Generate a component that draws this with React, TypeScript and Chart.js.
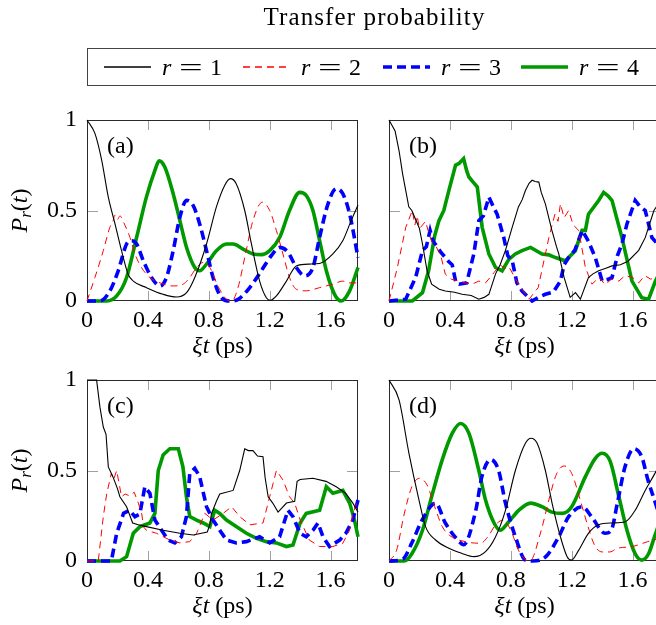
import React, { useEffect, useRef } from "react";
import { Chart, registerables } from "chart.js";

Chart.register(...registerables);

type Pt = [number, number];

const X_MAX = 1.78;
const X_TICKS = [0, 0.4, 0.8, 1.2, 1.6];
const X_TICK_LABELS = ["0", "0.4", "0.8", "1.2", "1.6"];
const Y_TICKS = [0, 0.5, 1];
const Y_TICK_LABELS = ["0", "0.5", "1"];
const R_VALUES = ["1", "2", "3", "4"];
const PANEL_NAMES = ["(a)", "(b)", "(c)", "(d)"];
const TITLE = "Transfer probability";

// ---- panel (a) ----
const aR1: Pt[] = [[0,1],[0.052,0.926],[0.096,0.78],[0.14,0.574],[0.184,0.426],[0.227,0.278],[0.27,0.148],[0.304,0.11],[0.39,0.074],[0.5,0.037],[0.588,0.022],[0.654,0.046],[0.708,0.13],[0.785,0.315],[0.85,0.52],[0.905,0.64],[0.942,0.676],[0.98,0.648],[1.036,0.5],[1.08,0.315],[1.134,0.11],[1.178,0.018],[1.204,0.004],[1.244,0.028],[1.31,0.11],[1.375,0.194],[1.46,0.204],[1.528,0.207],[1.615,0.26],[1.68,0.333],[1.735,0.444],[1.78,0.53]];
const aR2: Pt[] = [[0,0],[0.052,0.13],[0.107,0.278],[0.15,0.407],[0.17,0.44],[0.184,0.475],[0.2,0.45],[0.216,0.47],[0.25,0.417],[0.282,0.352],[0.315,0.26],[0.358,0.185],[0.413,0.13],[0.48,0.1],[0.566,0.083],[0.632,0.093],[0.675,0.13],[0.72,0.185],[0.763,0.213],[0.807,0.185],[0.86,0.083],[0.916,0.009],[0.95,0],[0.992,0.074],[1.036,0.24],[1.09,0.444],[1.152,0.546],[1.2,0.5],[1.244,0.389],[1.287,0.26],[1.33,0.13],[1.375,0.065],[1.44,0.056],[1.528,0.074],[1.615,0.093],[1.68,0.11],[1.72,0.1],[1.78,0.1]];
const aR3: Pt[] = [[0,0],[0.085,0],[0.15,0.055],[0.205,0.167],[0.26,0.315],[0.293,0.333],[0.326,0.315],[0.37,0.222],[0.424,0.13],[0.48,0.083],[0.522,0.13],[0.566,0.278],[0.61,0.463],[0.654,0.556],[0.697,0.528],[0.74,0.426],[0.785,0.278],[0.828,0.13],[0.883,0.018],[0.938,0],[0.992,0.009],[1.069,0.074],[1.145,0.167],[1.21,0.25],[1.266,0.296],[1.32,0.27],[1.375,0.185],[1.43,0.139],[1.484,0.185],[1.528,0.352],[1.583,0.537],[1.637,0.62],[1.68,0.593],[1.725,0.481],[1.78,0.24]];
const aR4: Pt[] = [[0,0],[0.13,0],[0.195,0.028],[0.26,0.13],[0.326,0.352],[0.39,0.574],[0.446,0.722],[0.474,0.774],[0.511,0.74],[0.566,0.593],[0.61,0.444],[0.654,0.296],[0.708,0.185],[0.74,0.167],[0.785,0.204],[0.85,0.278],[0.916,0.315],[0.96,0.315],[1.025,0.287],[1.09,0.26],[1.145,0.256],[1.2,0.278],[1.266,0.352],[1.33,0.5],[1.397,0.6],[1.44,0.583],[1.484,0.5],[1.528,0.333],[1.572,0.167],[1.626,0.037],[1.67,0],[1.725,0.056],[1.78,0.185]];

// ---- panel (b) ----
const bR1: Pt[] = [[0,1],[0.04,0.94],[0.066,0.83],[0.09,0.7],[0.13,0.52],[0.15,0.5],[0.175,0.45],[0.2,0.4],[0.22,0.315],[0.25,0.167],[0.28,0.093],[0.33,0.065],[0.37,0.055],[0.43,0.048],[0.48,0.037],[0.54,0.03],[0.59,0.01],[0.625,0.02],[0.656,0.037],[0.7,0.15],[0.73,0.2],[0.765,0.28],[0.81,0.41],[0.85,0.52],[0.875,0.56],[0.896,0.61],[0.92,0.65],[0.94,0.667],[0.96,0.66],[0.984,0.657],[1.0,0.6],[1.027,0.537],[1.07,0.39],[1.1,0.3],[1.115,0.26],[1.15,0.13],[1.19,0.02],[1.225,0.046],[1.257,0.01],[1.31,0.13],[1.34,0.15],[1.377,0.167],[1.42,0.18],[1.465,0.194],[1.52,0.2],[1.57,0.22],[1.64,0.28],[1.683,0.35],[1.74,0.5],[1.78,0.55]];
const bR2: Pt[] = [[0,0],[0.055,0.185],[0.11,0.407],[0.153,0.5],[0.17,0.42],[0.185,0.47],[0.2,0.4],[0.24,0.44],[0.26,0.38],[0.28,0.33],[0.31,0.3],[0.34,0.25],[0.37,0.148],[0.41,0.12],[0.46,0.11],[0.5,0.1],[0.546,0.093],[0.59,0.11],[0.634,0.1],[0.69,0.157],[0.73,0.2],[0.76,0.18],[0.787,0.19],[0.85,0.093],[0.92,0.01],[0.98,0.074],[1.05,0.35],[1.09,0.48],[1.11,0.44],[1.126,0.537],[1.15,0.46],[1.18,0.5],[1.21,0.42],[1.246,0.39],[1.29,0.185],[1.333,0.093],[1.38,0.13],[1.42,0.09],[1.46,0.12],[1.51,0.11],[1.55,0.14],[1.6,0.13],[1.64,0.1],[1.68,0.14],[1.72,0.12],[1.78,0.15]];
const bR3: Pt[] = [[0,0],[0.11,0.01],[0.175,0.13],[0.22,0.28],[0.245,0.3],[0.27,0.39],[0.29,0.33],[0.317,0.3],[0.34,0.27],[0.37,0.24],[0.39,0.22],[0.415,0.2],[0.44,0.1],[0.46,0.093],[0.51,0.1],[0.557,0.26],[0.59,0.444],[0.62,0.47],[0.656,0.574],[0.68,0.53],[0.71,0.48],[0.754,0.35],[0.78,0.25],[0.81,0.22],[0.84,0.1],[0.874,0.055],[0.94,0],[0.98,0.02],[1.027,0.037],[1.08,0.05],[1.126,0.11],[1.15,0.2],[1.18,0.24],[1.22,0.28],[1.27,0.39],[1.31,0.33],[1.355,0.24],[1.4,0.11],[1.44,0.12],[1.465,0.13],[1.5,0.25],[1.53,0.315],[1.563,0.426],[1.617,0.555],[1.65,0.52],[1.683,0.5],[1.727,0.35],[1.78,0.3]];
const bR4: Pt[] = [[0,0],[0.153,0],[0.22,0.046],[0.26,0.167],[0.3,0.36],[0.328,0.444],[0.36,0.5],[0.393,0.61],[0.437,0.75],[0.46,0.76],[0.49,0.787],[0.51,0.72],[0.525,0.685],[0.55,0.66],[0.58,0.63],[0.612,0.407],[0.656,0.26],[0.7,0.185],[0.743,0.167],[0.787,0.23],[0.83,0.26],[0.874,0.278],[0.93,0.296],[1.005,0.26],[1.05,0.255],[1.093,0.24],[1.158,0.222],[1.224,0.278],[1.268,0.39],[1.29,0.39],[1.31,0.48],[1.377,0.555],[1.41,0.6],[1.44,0.58],[1.465,0.555],[1.53,0.35],[1.596,0.11],[1.66,0.018],[1.705,0.01],[1.75,0.11],[1.78,0.16]];

// ---- panel (c) ----
const cR1: Pt[] = [[0,1],[0.063,1],[0.085,0.85],[0.107,0.74],[0.125,0.7],[0.14,0.52],[0.17,0.466],[0.2,0.4],[0.216,0.355],[0.26,0.3],[0.3,0.21],[0.337,0.2],[0.39,0.19],[0.5,0.17],[0.61,0.153],[0.697,0.144],[0.79,0.16],[0.807,0.2],[0.817,0.26],[0.85,0.33],[0.872,0.37],[0.96,0.39],[1.003,0.5],[1.036,0.62],[1.06,0.61],[1.09,0.61],[1.12,0.58],[1.156,0.576],[1.17,0.46],[1.19,0.355],[1.22,0.32],[1.255,0.27],[1.31,0.32],[1.364,0.33],[1.38,0.44],[1.4,0.45],[1.484,0.457],[1.57,0.44],[1.637,0.41],[1.7,0.374],[1.746,0.32],[1.78,0.27]];
const cR2: Pt[] = [[0,0],[0.074,0],[0.107,0.245],[0.13,0.374],[0.16,0.484],[0.175,0.45],[0.195,0.5],[0.227,0.355],[0.25,0.37],[0.28,0.36],[0.31,0.38],[0.337,0.32],[0.36,0.26],[0.37,0.19],[0.39,0.17],[0.457,0.153],[0.544,0.116],[0.61,0.1],[0.675,0.107],[0.72,0.153],[0.774,0.263],[0.828,0.226],[0.894,0.263],[0.95,0.3],[1.003,0.245],[1.07,0.2],[1.156,0.21],[1.2,0.355],[1.244,0.5],[1.287,0.448],[1.33,0.355],[1.364,0.32],[1.4,0.227],[1.46,0.116],[1.528,0.08],[1.615,0.08],[1.68,0.098],[1.725,0.17],[1.746,0.26],[1.78,0.34]];
const cR3: Pt[] = [[0,0],[0.16,0],[0.195,0.153],[0.24,0.263],[0.28,0.28],[0.315,0.245],[0.347,0.26],[0.38,0.41],[0.413,0.374],[0.446,0.226],[0.49,0.17],[0.533,0.116],[0.577,0.1],[0.62,0.134],[0.653,0.245],[0.675,0.484],[0.708,0.512],[0.74,0.466],[0.785,0.3],[0.828,0.226],[0.872,0.17],[0.916,0.116],[0.98,0.1],[1.047,0.107],[1.134,0.134],[1.2,0.1],[1.265,0.134],[1.32,0.28],[1.353,0.245],[1.4,0.153],[1.44,0.134],[1.484,0.17],[1.517,0.21],[1.55,0.134],[1.593,0.08],[1.66,0.116],[1.7,0.153],[1.746,0.226],[1.78,0.337]];
const cR4: Pt[] = [[0,0],[0.216,0],[0.26,0.024],[0.304,0.153],[0.348,0.19],[0.413,0.21],[0.446,0.263],[0.468,0.5],[0.5,0.586],[0.544,0.62],[0.6,0.62],[0.63,0.52],[0.653,0.355],[0.675,0.245],[0.72,0.226],[0.763,0.21],[0.807,0.19],[0.839,0.28],[0.872,0.263],[0.916,0.226],[0.98,0.19],[1.047,0.153],[1.113,0.125],[1.178,0.107],[1.244,0.1],[1.31,0.08],[1.353,0.088],[1.4,0.21],[1.44,0.263],[1.528,0.28],[1.572,0.41],[1.615,0.374],[1.68,0.39],[1.725,0.32],[1.757,0.226],[1.78,0.134]];

// ---- panel (d) ----
const dR1: Pt[] = [[0,1],[0.066,0.89],[0.131,0.595],[0.197,0.337],[0.24,0.19],[0.306,0.116],[0.393,0.07],[0.48,0.042],[0.557,0.024],[0.634,0.052],[0.7,0.134],[0.765,0.28],[0.83,0.5],[0.896,0.65],[0.933,0.678],[0.973,0.65],[1.027,0.5],[1.071,0.32],[1.126,0.134],[1.17,0.024],[1.198,0.005],[1.246,0.06],[1.31,0.153],[1.377,0.2],[1.464,0.21],[1.552,0.217],[1.617,0.28],[1.683,0.39],[1.744,0.48],[1.78,0.54]];
const dR2: Pt[] = [[0,0],[0.05,0.06],[0.1,0.26],[0.15,0.41],[0.2,0.457],[0.25,0.42],[0.3,0.3],[0.35,0.19],[0.4,0.14],[0.5,0.107],[0.6,0.098],[0.65,0.134],[0.7,0.2],[0.75,0.226],[0.8,0.17],[0.85,0.06],[0.9,0.005],[0.925,0],[1.0,0.17],[1.05,0.337],[1.1,0.48],[1.15,0.525],[1.2,0.484],[1.25,0.355],[1.3,0.21],[1.35,0.088],[1.4,0.05],[1.45,0.05],[1.5,0.07],[1.6,0.08],[1.7,0.107],[1.78,0.125]];
const dR3: Pt[] = [[0,0],[0.09,0.01],[0.15,0.1],[0.22,0.23],[0.306,0.32],[0.37,0.21],[0.47,0.1],[0.49,0.09],[0.57,0.28],[0.61,0.466],[0.667,0.56],[0.72,0.5],[0.765,0.32],[0.83,0.134],[0.896,0.005],[0.94,0],[1.03,0.024],[1.115,0.134],[1.18,0.245],[1.27,0.3],[1.33,0.245],[1.42,0.153],[1.46,0.17],[1.5,0.32],[1.55,0.52],[1.607,0.62],[1.66,0.576],[1.7,0.45],[1.75,0.32],[1.78,0.24]];
const dR4: Pt[] = [[0,0],[0.1,0],[0.15,0.04],[0.22,0.17],[0.28,0.355],[0.35,0.56],[0.415,0.705],[0.47,0.76],[0.525,0.705],[0.59,0.5],[0.634,0.337],[0.69,0.21],[0.73,0.17],[0.787,0.217],[0.852,0.28],[0.93,0.32],[1.005,0.3],[1.07,0.27],[1.137,0.263],[1.2,0.3],[1.29,0.466],[1.355,0.567],[1.4,0.595],[1.453,0.55],[1.51,0.355],[1.563,0.17],[1.617,0.04],[1.66,0.005],[1.705,0.04],[1.75,0.15],[1.78,0.22]];

const PANEL_DATA: Pt[][][] = [
  [aR1, aR2, aR3, aR4],
  [bR1, bR2, bR3, bR4],
  [cR1, cR2, cR3, cR4],
  [dR1, dR2, dR3, dR4],
];

// ---- styling / layout ----
const SERIF = '"Liberation Serif", "Times New Roman", serif';
const CANVAS_W = 680;
const CANVAS_H = 625;
const X_AXIS_H = 40;
const Y_AXIS_W = 60;

const STYLES = [
  { color: "#000000", width: 1.1, dash: [] as number[] },
  { color: "#ff0000", width: 1, dash: [7, 5] },
  { color: "#0000ff", width: 3.6, dash: [9, 5] },
  { color: "#009900", width: 3.6, dash: [] as number[] },
];

const LAYOUT = [
  { left: 87, right: 358, top: 120, bottom: 301, yLabels: true, smooth: true },
  { left: 389, right: 660, top: 120, bottom: 301, yLabels: false, smooth: false },
  { left: 87, right: 358, top: 380, bottom: 561, yLabels: true, smooth: false },
  { left: 389, right: 660, top: 380, bottom: 561, yLabels: false, smooth: true },
];

const LEGEND_X = [104, 243, 383, 521];

type Run = { t: string; f: string; dy?: number };

function drawRuns(ctx: CanvasRenderingContext2D, runs: Run[], x: number, y: number, center: boolean) {
  const widths = runs.map((r) => {
    ctx.font = r.f;
    return ctx.measureText(r.t).width;
  });
  const total = widths.reduce((s, w) => s + w, 0);
  let cx = center ? x - total / 2 : x;
  ctx.textAlign = "left";
  ctx.textBaseline = "alphabetic";
  runs.forEach((r, i) => {
    ctx.font = r.f;
    ctx.fillText(r.t, cx, y + (r.dy || 0));
    cx += widths[i];
  });
}

const F = (size: number, italic = false) => `${italic ? "italic " : ""}${size}px ${SERIF}`;

function makeDecor(idx: number) {
  return {
    id: "decor" + idx,
    beforeDatasetsDraw(chart: any) {
      const { ctx, chartArea: ca, scales } = chart;
      const xs = scales.x;
      const ys = scales.y;
      ctx.save();
      ctx.strokeStyle = "#a0a0a0";
      ctx.lineWidth = 1;
      const TLX = 10;
      const TLY = 11;
      ctx.beginPath();
      X_TICKS.forEach((v) => {
        if (v <= 0) return;
        const px = Math.round(xs.getPixelForValue(v)) + 0.5;
        ctx.moveTo(px, ca.top);
        ctx.lineTo(px, ca.top + TLX);
        ctx.moveTo(px, ca.bottom);
        ctx.lineTo(px, ca.bottom - TLX);
      });
      Y_TICKS.forEach((v) => {
        if (v <= 0 || v >= 1) return;
        const py = Math.round(ys.getPixelForValue(v)) + 0.5;
        ctx.moveTo(ca.left, py);
        ctx.lineTo(ca.left + TLY, py);
        ctx.moveTo(ca.right, py);
        ctx.lineTo(ca.right - TLY, py);
      });
      ctx.stroke();
      ctx.strokeStyle = "#2a2a2a";
      ctx.lineWidth = 1;
      ctx.strokeRect(ca.left + 0.5, ca.top + 0.5, ca.right - ca.left - 1, ca.bottom - ca.top - 1);
      ctx.restore();
    },
    afterDraw(chart: any) {
      const { ctx, chartArea: ca } = chart;
      ctx.save();
      ctx.fillStyle = "#000";
      // panel label
      drawRuns(ctx, [{ t: PANEL_NAMES[idx], f: F(24) }], ca.left + 20, ca.top + 33, false);
      // x-axis title
      const cx = (ca.left + ca.right) / 2;
      drawRuns(
        ctx,
        [
          { t: "ξt", f: F(24, true) },
          { t: " (ps)", f: F(24) },
        ],
        cx,
        ca.bottom + 52,
        true
      );
      // y-axis title
      if (LAYOUT[idx].yLabels) {
        ctx.save();
        ctx.translate(27, (ca.top + ca.bottom) / 2);
        ctx.rotate(-Math.PI / 2);
        drawRuns(
          ctx,
          [
            { t: "P", f: F(24, true) },
            { t: "r", f: F(17, true), dy: 4 },
            { t: "(", f: F(24) },
            { t: "t", f: F(24, true) },
            { t: ")", f: F(24) },
          ],
          0,
          0,
          true
        );
        ctx.restore();
      }
      if (idx === 0) {
        // title
        ctx.font = F(25);
        const w = ctx.measureText(TITLE).width;
        const ls = (222 - w) / TITLE.length;
        (ctx as any).letterSpacing = `${ls}px`;
        ctx.textAlign = "left";
        ctx.textBaseline = "alphabetic";
        ctx.fillText(TITLE, 374.5 - 111, 25);
        (ctx as any).letterSpacing = "0px";
        // legend box
        ctx.strokeStyle = "#444";
        ctx.lineWidth = 1;
        ctx.strokeRect(87.5, 48.5, 620, 37);
        R_VALUES.forEach((rv, i) => {
          const x0 = LEGEND_X[i];
          const st = STYLES[i];
          ctx.save();
          ctx.strokeStyle = st.color;
          ctx.lineWidth = i === 1 ? 1.4 : i === 0 ? 1.6 : st.width;
          ctx.setLineDash(st.dash);
          ctx.beginPath();
          ctx.moveTo(x0, 67);
          ctx.lineTo(x0 + 47, 67);
          ctx.stroke();
          ctx.restore();
          ctx.fillStyle = "#000";
          const tx = x0 + 58;
          drawRuns(ctx, [{ t: "r", f: F(24, true) }], tx, 75, false);
          // wide "=" like the math font
          ctx.save();
          ctx.translate(tx + 17, 75);
          ctx.scale(1.75, 1);
          drawRuns(ctx, [{ t: "=", f: F(24) }], 0, 0, false);
          ctx.restore();
          drawRuns(ctx, [{ t: rv, f: F(24) }], tx + 48, 75, false);
        });
      }
      ctx.restore();
    },
  };
}

function Panel({ idx }: { idx: number }) {
  const ref = useRef<HTMLCanvasElement>(null);
  useEffect(() => {
    const lay = LAYOUT[idx];
    const series = PANEL_DATA[idx];
    const yW = lay.yLabels ? Y_AXIS_W : 0;
    const chart = new Chart(ref.current as HTMLCanvasElement, {
      type: "line",
      data: {
        datasets: series.map((pts, i) => ({
          label: "r = " + R_VALUES[i],
          data: pts.map(([t, p]) => ({ x: t, y: p })),
          borderColor: STYLES[i].color,
          borderWidth: STYLES[i].width,
          borderDash: STYLES[i].dash,
          pointRadius: 0,
          fill: false,
          tension: 0,
          cubicInterpolationMode: lay.smooth ? "monotone" : "default",
          clip: 2,
        })) as any,
      },
      options: {
        responsive: false,
        animation: false,
        events: [],
        layout: {
          padding: {
            left: lay.left - yW,
            right: CANVAS_W - lay.right,
            top: lay.top,
            bottom: CANVAS_H - lay.bottom - X_AXIS_H,
          },
        },
        plugins: { legend: { display: false }, tooltip: { enabled: false }, title: { display: false } },
        scales: {
          x: {
            type: "linear",
            min: 0,
            max: X_MAX,
            grid: { display: false, drawTicks: false },
            border: { display: false },
            afterBuildTicks: (s: any) => {
              s.ticks = X_TICKS.map((v) => ({ value: v }));
            },
            afterFit: (s: any) => {
              s.height = X_AXIS_H;
            },
            ticks: {
              autoSkip: false,
              maxRotation: 0,
              minRotation: 0,
              padding: 5,
              color: "#000",
              font: { family: SERIF, size: 24 },
              callback: (v: any) => {
                const k = X_TICKS.findIndex((t) => Math.abs(t - Number(v)) < 1e-6);
                return k >= 0 ? X_TICK_LABELS[k] : "";
              },
            },
          },
          y: {
            type: "linear",
            min: 0,
            max: 1,
            grid: { display: false, drawTicks: false },
            border: { display: false },
            afterBuildTicks: (s: any) => {
              s.ticks = Y_TICKS.map((v) => ({ value: v }));
            },
            afterFit: (s: any) => {
              s.width = yW;
            },
            ticks: {
              display: lay.yLabels,
              padding: 10,
              color: "#000",
              font: { family: SERIF, size: 24 },
              callback: (v: any) => {
                const k = Y_TICKS.findIndex((t) => Math.abs(t - Number(v)) < 1e-6);
                return k >= 0 ? Y_TICK_LABELS[k] : "";
              },
            },
          },
        },
      } as any,
      plugins: [makeDecor(idx)],
    });
    return () => chart.destroy();
  }, [idx]);
  return (
    <canvas
      ref={ref}
      width={CANVAS_W}
      height={CANVAS_H}
      style={{ position: "absolute", left: 0, top: 0, width: CANVAS_W, height: CANVAS_H }}
    />
  );
}

export default function App() {
  return (
    <div
      style={{
        position: "absolute",
        left: 0,
        top: 0,
        width: 656,
        height: 625,
        overflow: "hidden",
        background: "#fff",
      }}
    >
      {[0, 1, 2, 3].map((i) => (
        <Panel key={i} idx={i} />
      ))}
    </div>
  );
}
